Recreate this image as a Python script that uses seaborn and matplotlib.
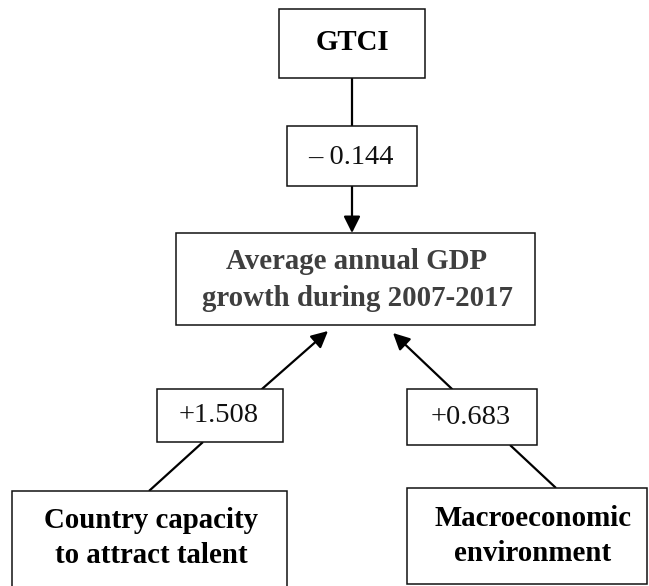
import matplotlib
matplotlib.use("Agg")
import matplotlib.pyplot as plt
from matplotlib.patches import Rectangle, FancyArrowPatch
import seaborn as sns

# ---- content ----
nodes = ["GTCI",
         "Average annual GDP\ngrowth during 2007-2017",
         "Country capacity\nto attract talent",
         "Macroeconomic\nenvironment"]
coef_labels = ["\u2013 0.144", "+1.508", "+0.683"]

sns.set_theme(style="white")
plt.rcParams['font.family'] = ['Liberation Serif', 'DejaVu Serif']

W, H = 649, 586
fig = plt.figure(figsize=(W / 100, H / 100), dpi=100)
ax = fig.add_axes([0, 0, 1, 1])
ax.set_xlim(0, W)
ax.set_ylim(H, 0)
ax.axis("off")

# ---- layout (pixel space) ----
node_boxes = [(279, 9, 425, 78), (176, 233, 535, 325), (12, 491, 287, 588), (407, 488, 647, 584)]
node_text_xy = [(352, 42), (357, 280), (151, 538), (533, 536)]
node_colors = ["black", "#3f3f3f", "black", "black"]
node_spacing = [1.0, 1.45, 1.38, 1.42]
coef_boxes = [(287, 126, 417, 186), (157, 389, 283, 442), (407, 389, 537, 445)]
coef_text_xy = [(351, 157), (219, 416), (471, 418)]

def box(x0, y0, x1, y1):
    ax.add_patch(Rectangle((x0, y0), x1 - x0, y1 - y0, facecolor="white",
                           edgecolor="#111111", lw=1.1, zorder=2))

for (b, xy, lab, c, ls) in zip(node_boxes, node_text_xy, nodes, node_colors, node_spacing):
    box(*b)
    ax.text(xy[0], xy[1], lab, ha="center", va="center", fontsize=20.8,
            fontweight="bold", color=c, linespacing=ls, zorder=3)

for (b, xy, lab) in zip(coef_boxes, coef_text_xy, coef_labels):
    box(*b)
    ax.text(xy[0], xy[1], lab, ha="center", va="center", fontsize=20.5,
            color="#111111", zorder=3)

def seg(p, q):
    ax.plot([p[0], q[0]], [p[1], q[1]], color="black", lw=1.6, zorder=1,
            solid_capstyle="butt")

def arrow(p, q):
    ax.add_patch(FancyArrowPatch(p, q, arrowstyle="-|>", mutation_scale=25,
                                 color="black", lw=1.6, shrinkA=0, shrinkB=0,
                                 zorder=1))

# GTCI -> coefficient -> GDP
seg((352, 78), (352, 126))
arrow((352, 186), (352, 233))
# Country capacity -> coefficient -> GDP
seg((149, 491), (203, 442))
arrow((262, 389), (328, 331))
# Macroeconomic -> coefficient -> GDP
seg((556, 488), (510, 445))
arrow((452, 389), (393, 333))

fig.savefig("out.png", dpi=100, facecolor="white")
